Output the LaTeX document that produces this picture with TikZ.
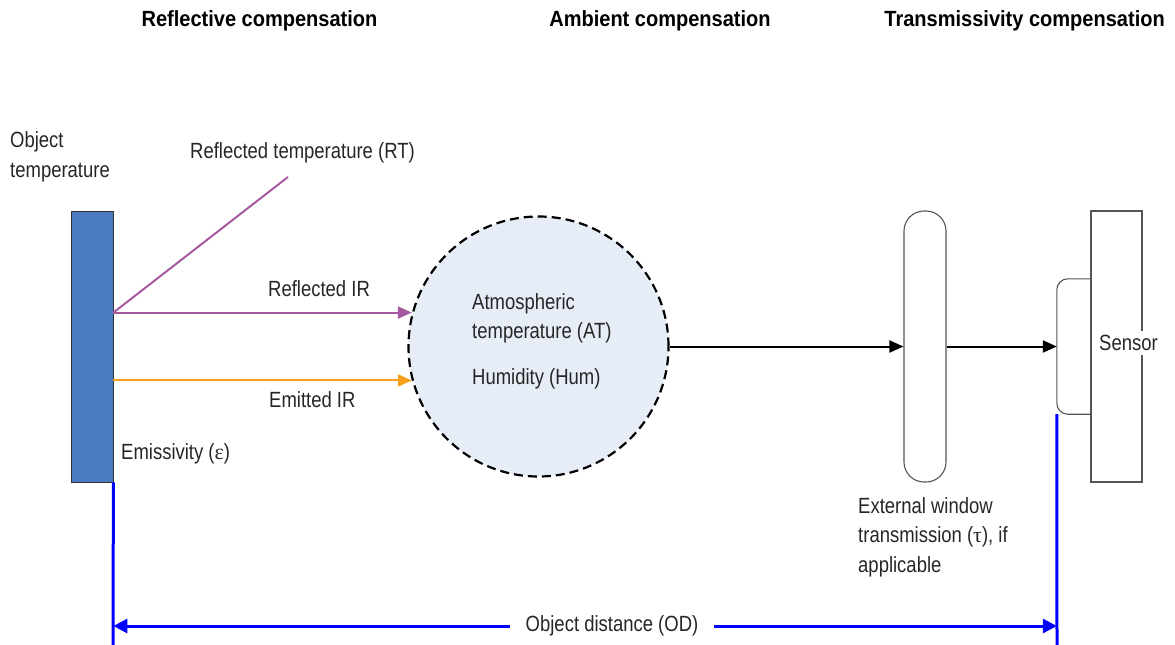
\documentclass[tikz,border=0pt]{standalone}
\usepackage{fontspec}
\setmainfont{Liberation Sans}[FakeStretch=0.84, BoldFeatures={FakeStretch=0.91}]
\newfontfamily\grk{Liberation Serif}
\usetikzlibrary{arrows.meta}
\definecolor{objblue}{HTML}{4A7AC0}
\definecolor{refl}{HTML}{A6599F}
\definecolor{emit}{HTML}{F8A01C}
\definecolor{atmo}{HTML}{E6EDF7}
\definecolor{odblue}{HTML}{0000FF}
\definecolor{txt}{HTML}{262626}
\definecolor{edge}{HTML}{555555}
\tikzset{
  lbl/.style={inner sep=0pt, anchor=base west, align=left, text=txt, font=\fontsize{22}{29.5}\selectfont},
  ttl/.style={inner sep=0pt, anchor=base, font=\fontsize{22}{26}\selectfont\bfseries},
  part/.style={draw=edge, line width=1.1pt, minimum width=42pt, minimum height=271pt, inner sep=0pt},
  ray/.style={line width=2pt, -{Triangle[length=14pt,width=12pt]}},
  odline/.style={draw=odblue, line width=3pt},
}
\begin{document}
\begin{tikzpicture}[x=1pt,y=-1pt]
\useasboundingbox (0,0) rectangle (1175,645);
% titles
\node[ttl] (t1) at (259.5,27) {Reflective compensation};
\node[ttl] (t2) at (660,27) {Ambient compensation};
\node[ttl, anchor=base east] (t3) at (1165,27) {Transmissivity compensation};
% object
\node[part, fill=objblue, draw=black!80, line width=0.8pt] (ob) at (92,346.5) {};
\node[lbl] (objt) at (10,177) {Object\\temperature};
% atmosphere
\node[circle, draw=black, fill=atmo, dashed, dash pattern=on 9pt off 5pt, line width=2.2pt, minimum size=260pt, inner sep=0pt] (c) at (538.5,346.5) {};
\node[lbl] (ctext) at (472,384) {Atmospheric\\temperature (AT)\\[16pt]Humidity (Hum)};
% window
\node[part, rounded corners=20pt] (win) at (925,346.5) {};
\node[lbl] (wtext) at (858,572) {External window\\transmission ({\grk τ}), if\\applicable};
% sensor
\node[part, minimum width=51pt] (sen) at (1116.5,346.5) {};
\node[inner sep=0pt, minimum width=34pt, minimum height=135pt] (lens) at (1074,346.5) {};
\draw[draw=edge, line width=1.1pt, rounded corners=11pt] (lens.north east) -- (lens.north west) -- (lens.south west) -- (lens.south east);
\node[fill=white, inner xsep=0pt, inner ysep=4pt, text=txt, font=\fontsize{22}{26}\selectfont] (st) at (1128.5,343) {Sensor};
% rays
\coordinate (rt) at (288,177);
\draw[refl, line width=2pt] (ob.east |- c.165) -- (rt);
\draw[ray, refl] (ob.east |- c.165) -- (c.165);
\draw[ray, emit] (ob.east |- c.195) -- (c.195);
\draw[ray, black] (c.east) -- (win.west);
\draw[ray, black] (win.east) -- (lens.west);
\node[lbl] (rtl) at (190,158) {Reflected temperature (RT)};
\node[lbl] (ril) at (268,296) {Reflected IR};
\node[lbl] (eil) at (269,407) {Emitted IR};
\node[lbl] (eml) at (121,459) {Emissivity ({\grk ε})};
% object distance
\coordinate (odl) at (113,645);
\coordinate (odr) at (1057,645);
\draw[odline] (ob.south east) -- (odl);
\draw[odline] (lens.south west) -- (odr);
\node[fill=white, inner xsep=16pt, inner ysep=2pt, text=txt, font=\fontsize{22}{26}\selectfont] (od) at (612,626) {Object distance (OD)};
\draw[odline, {Triangle[length=14pt,width=14pt]}-] (ob.south east |- od) -- (od.west);
\draw[odline, -{Triangle[length=14pt,width=14pt]}] (od.east) -- (lens.south west |- od);
\end{tikzpicture}
\end{document}
